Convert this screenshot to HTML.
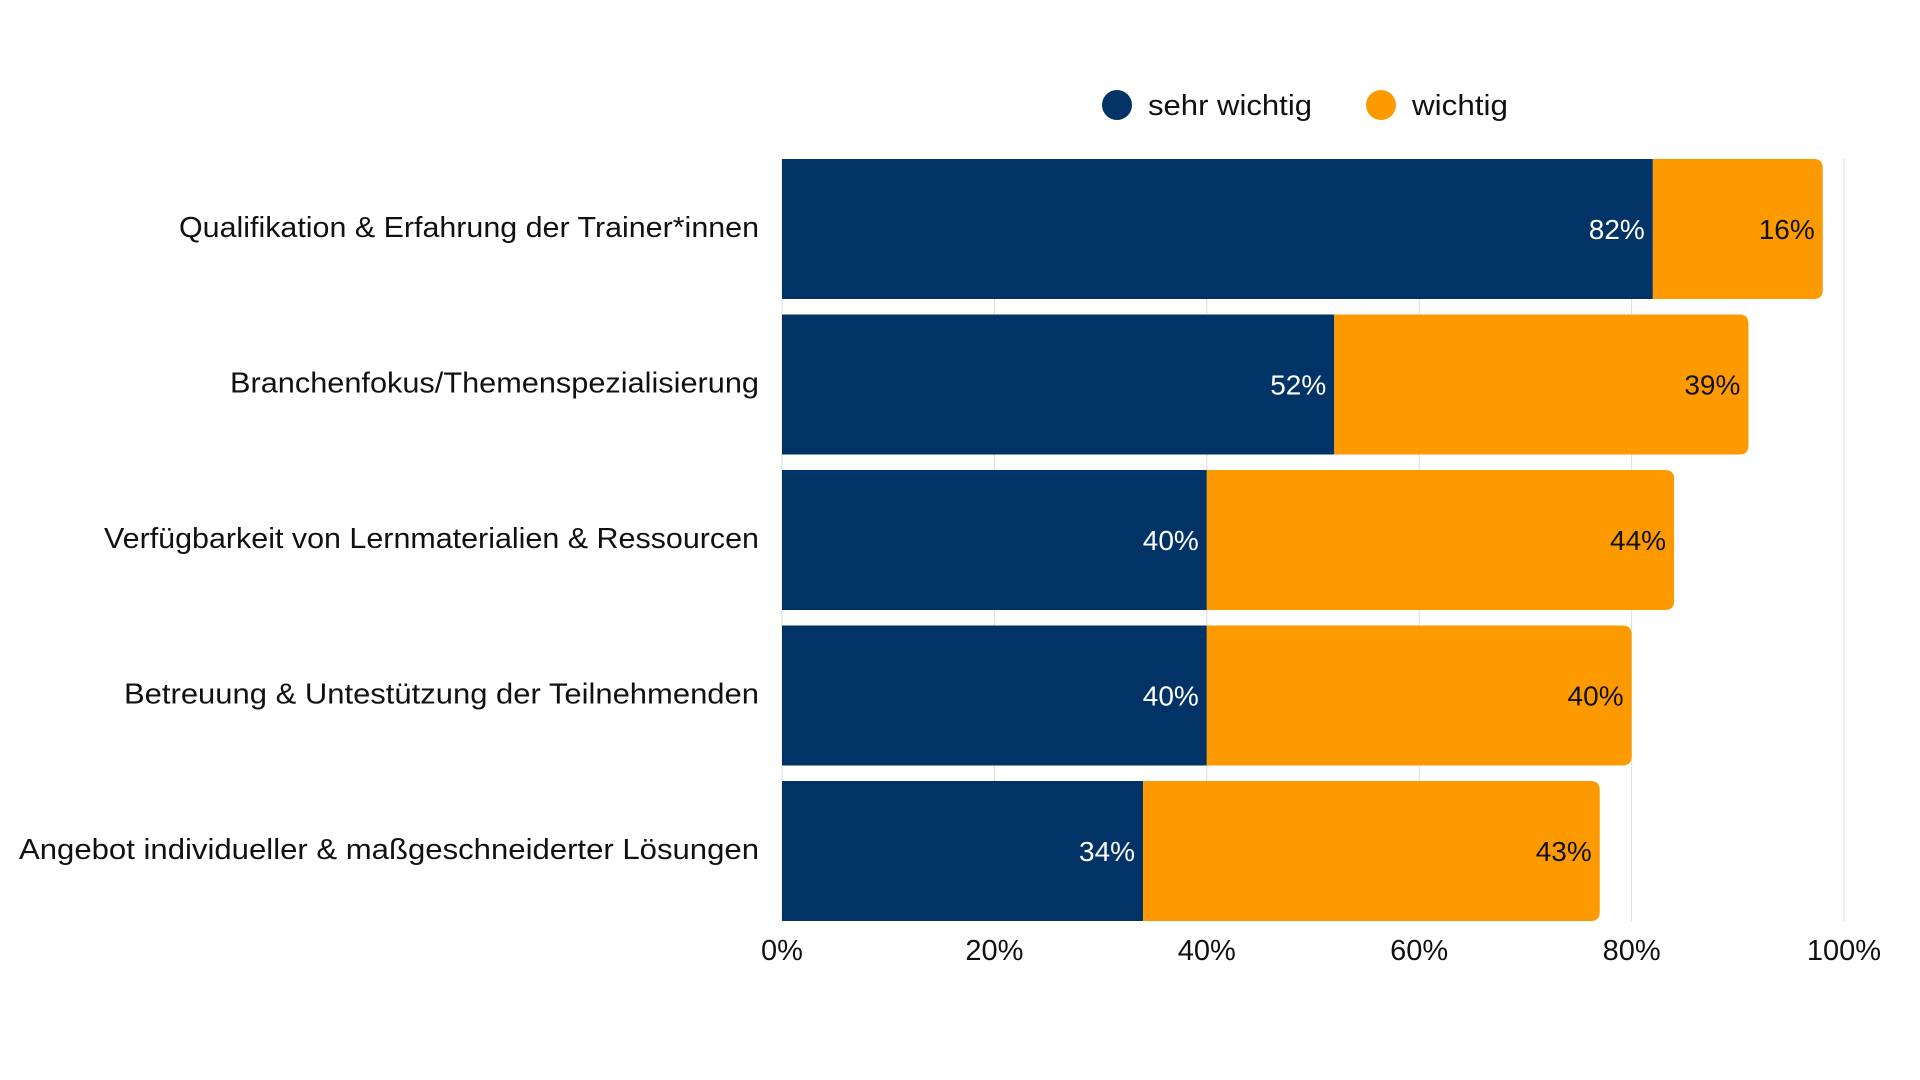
<!DOCTYPE html>
<html><head><meta charset="utf-8"><style>
html,body{margin:0;padding:0;background:#fff;}
svg{display:block;font-family:"Liberation Sans",sans-serif;}
</style></head><body>
<svg id="chart" width="1920" height="1080" viewBox="0 0 1920 1080">
<g id="grid"></g>
<g id="bars"></g>
<g id="labels"></g>
<g id="ticks"></g>
<g>
  <circle cx="1117" cy="105" r="15" fill="#023366"/>
  <text x="1148" y="115" font-size="29" fill="#111" textLength="164" lengthAdjust="spacingAndGlyphs">sehr wichtig</text>
  <circle cx="1381" cy="105" r="15" fill="#FD9A00"/>
  <text x="1412" y="115" font-size="29" fill="#111" textLength="96" lengthAdjust="spacingAndGlyphs">wichtig</text>
</g>
</svg>
<script>
const categories = ["Qualifikation & Erfahrung der Trainer*innen","Branchenfokus/Themenspezialisierung","Verfügbarkeit von Lernmaterialien & Ressourcen","Betreuung & Untestützung der Teilnehmenden","Angebot individueller & maßgeschneiderter Lösungen"];
const sehrWichtig = [82, 52, 40, 40, 34];
const wichtig = [16, 39, 44, 40, 43];
const ticks = [0, 20, 40, 60, 80, 100];
const labelWidths = [580, 529, 655, 635, 740];

const NS = "http://www.w3.org/2000/svg";
const X0 = 782, X1 = 1844, TOP = 159, PITCH = 155.5, BH = 140;
const x = v => X0 + (X1 - X0) * v / 100;
const yTop = i => TOP + i * PITCH;
function mk(tag, attrs, parent){ const e = document.createElementNS(NS, tag); for (const k in attrs) e.setAttribute(k, attrs[k]); parent.appendChild(e); return e; }
const grid = document.getElementById('grid'), bars = document.getElementById('bars'), labels = document.getElementById('labels'), tk = document.getElementById('ticks');
const bottom = yTop(categories.length - 1) + BH;
ticks.forEach(t => {
  const l = mk('line', {x1:x(t), x2:x(t), y1:TOP, y2:bottom, stroke:'#dcdcdc', 'stroke-width':1}, grid);
  
  
  const tx = mk('text', {x:x(t), y:bottom + 39, 'font-size':29, fill:'#111', 'text-anchor':'middle'}, tk);
  tx.textContent = t + '%';
  
  
});
categories.forEach((c, i) => {
  const y = yTop(i), cy = y + BH / 2;
  const a = sehrWichtig[i], b = wichtig[i];
  const r1 = mk('rect', {x:x(0), y:y, width:x(a) - x(0), height:BH, fill:'#023366'}, bars);
  
  
  const x2s = x(a), x2e = x(a + b), rr = 9;
  const p = mk('path', {d:`M${x2s},${y} H${x2e - rr} Q${x2e},${y} ${x2e},${y + rr} V${y + BH - rr} Q${x2e},${y + BH} ${x2e - rr},${y + BH} H${x2s} Z`, fill:'#FD9A00'}, bars);
  
  
  const v1 = mk('text', {x:x(a) - 8, y:cy + 10, 'font-size':28, fill:'#fff', 'text-anchor':'end'}, bars);
  v1.textContent = a + '%';
  
  
  const v2 = mk('text', {x:x(a + b) - 8, y:cy + 10, 'font-size':28, fill:'#111', 'text-anchor':'end'}, bars);
  v2.textContent = b + '%';
  
  
  const lb = mk('text', {x:759, y:cy + 8, 'font-size':29, fill:'#111', 'text-anchor':'end', textLength:labelWidths[i], lengthAdjust:'spacingAndGlyphs'}, labels);
  lb.textContent = c;
  
  
});
</script>
</body></html>
